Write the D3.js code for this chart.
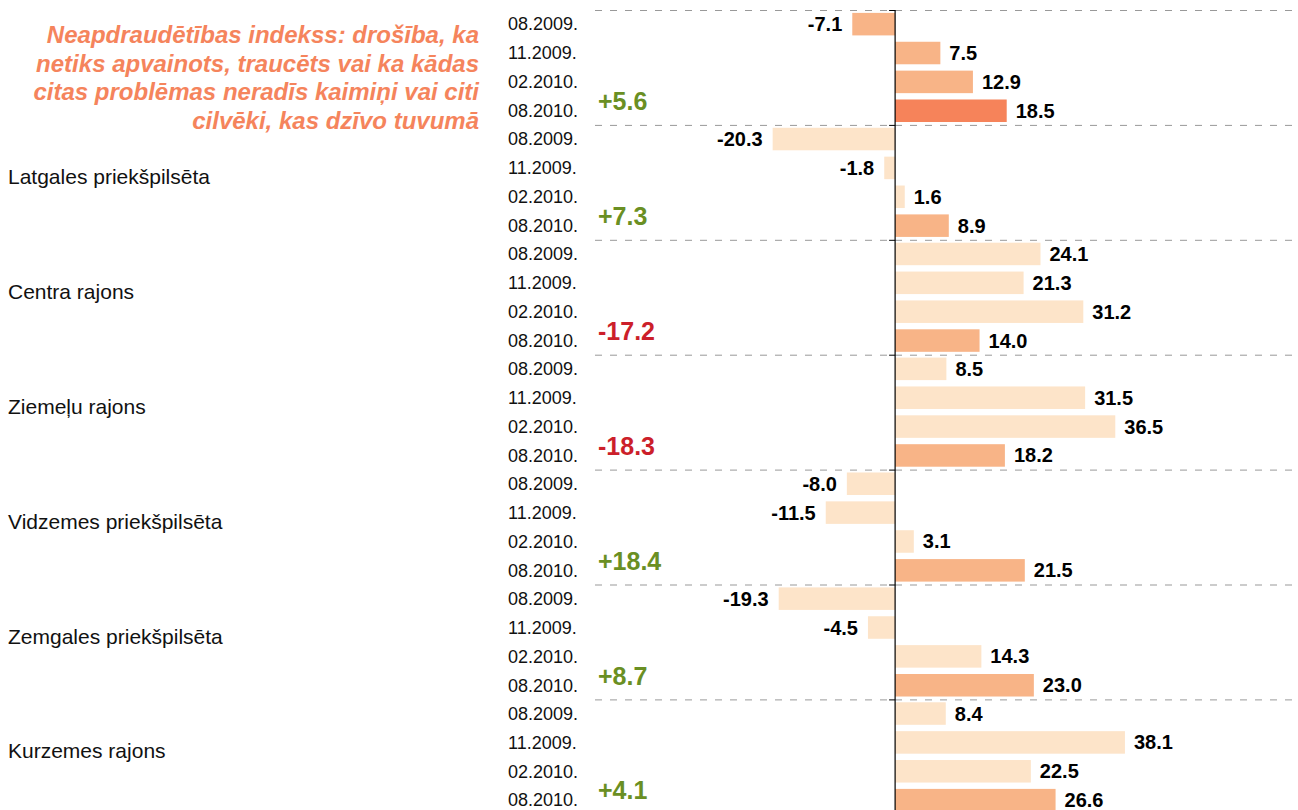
<!DOCTYPE html>
<html>
<head>
<meta charset="utf-8">
<script src="https://cdn.jsdelivr.net/npm/d3@7"></script>
<style>
  body { margin: 0; background: #fff; }
  svg { display: block; font-family: "Liberation Sans", Arial, sans-serif; }
</style>
</head>
<body>
<div id="chart"></div>
<script>
// data
const periods = ["08.2009.", "11.2009.", "02.2010.", "08.2010."]
const districts = ["", "Latgales priekšpilsēta", "Centra rajons", "Ziemeļu rajons",
  "Vidzemes priekšpilsēta", "Zemgales priekšpilsēta", "Kurzemes rajons"]
const values = [
  [-7.1, 7.5, 12.9, 18.5],
  [-20.3, -1.8, 1.6, 8.9],
  [24.1, 21.3, 31.2, 14.0],
  [8.5, 31.5, 36.5, 18.2],
  [-8.0, -11.5, 3.1, 21.5],
  [-19.3, -4.5, 14.3, 23.0],
  [8.4, 38.1, 22.5, 26.6]
]
const changes = [5.6, 7.3, -17.2, -18.3, 18.4, 8.7, 4.1]
const titleLines = [
  "Neapdraudētības indekss: drošība, ka",
  "netiks apvainots, traucēts vai ka kādas",
  "citas problēmas neradīs kaimiņi vai citi",
  "cilvēki, kas dzīvo tuvumā"
]

const width = 1298, height = 810

const svg = d3.select("#chart").append("svg")
  .attr("width", width)
  .attr("height", height)

// scales
const x = d3.scaleLinear().domain([-25, 40]).range([744.3, 1136.4])
const yGroup = d3.scaleBand().domain(d3.range(districts.length)).range([10, 10 + 114.9 * districts.length])
const yBar = d3.scaleBand().domain(periods).range([0, yGroup.bandwidth()])
  .paddingInner(0.22).paddingOuter(0.1)

const light = "#fde4c9", mid = "#f8b487", dark = "#f6835a"
function barColor(g, i) {
  if (g === 0) return i === 3 ? dark : mid
  return i === 3 ? mid : light
}

// title
svg.append("text")
  .attr("text-anchor", "end")
  .attr("fill", "#f5845c")
  .style("font-size", "24px")
  .style("font-weight", "bold")
  .style("font-style", "italic")
  .selectAll("tspan")
  .data(titleLines)
  .enter().append("tspan")
    .attr("x", 479)
    .attr("y", (d, i) => 43 + i * 28.5)
    .text(d => d)

// groups
const groups = svg.selectAll(".group")
  .data(values)
  .enter().append("g")
    .attr("class", "group")
    .attr("transform", (d, g) => "translate(0," + yGroup(g) + ")")

groups.append("line")
  .attr("x1", 595).attr("x2", width)
  .attr("y1", 0.5).attr("y2", 0.5)
  .attr("stroke", "#999")
  .attr("stroke-dasharray", "7,8")

groups.append("line")
  .attr("x1", x(0) - 6).attr("x2", x(0))
  .attr("y1", 0.5).attr("y2", 0.5)
  .attr("stroke", "#000")

groups.append("text")
  .attr("x", 8)
  .attr("y", 59)
  .style("font-size", "21px")
  .attr("fill", "#111")
  .text((d, g) => districts[g])

groups.selectAll(".period")
  .data(periods)
  .enter().append("text")
    .attr("class", "period")
    .attr("x", 508)
    .attr("y", p => yBar(p) + yBar.bandwidth() / 2)
    .attr("dy", "0.35em")
    .style("font-size", "18px")
    .attr("fill", "#111")
    .text(p => p)

groups.selectAll(".bar")
  .data((d, g) => d.map((v, i) => ({ v: v, i: i, g: g })))
  .enter().append("rect")
    .attr("class", "bar")
    .attr("x", d => x(Math.min(0, d.v)))
    .attr("width", d => Math.abs(x(d.v) - x(0)))
    .attr("y", d => yBar(periods[d.i]))
    .attr("height", yBar.bandwidth())
    .attr("fill", d => barColor(d.g, d.i))

groups.selectAll(".val")
  .data((d, g) => d.map((v, i) => ({ v: v, i: i, g: g })))
  .enter().append("text")
    .attr("class", "val")
    .attr("x", d => d.v < 0 ? x(d.v) - 10 : x(d.v) + 9)
    .attr("y", d => yBar(periods[d.i]) + yBar.bandwidth() / 2)
    .attr("dy", "0.35em")
    .attr("text-anchor", d => d.v < 0 ? "end" : "start")
    .style("font-size", "20px")
    .style("font-weight", "bold")
    .attr("fill", "#000")
    .text(d => d.v.toFixed(1))

groups.append("text")
  .attr("x", 598)
  .attr("y", 100)
  .style("font-size", "25px")
  .style("font-weight", "bold")
  .attr("fill", (d, g) => changes[g] < 0 ? "#cc1f2a" : "#6a8f23")
  .text((d, g) => (changes[g] > 0 ? "+" : "") + changes[g].toFixed(1))

// zero axis
svg.append("line")
  .attr("x1", x(0)).attr("x2", x(0))
  .attr("y1", 10).attr("y2", height)
  .attr("stroke", "#000")
  .attr("stroke-width", 1.2)
</script>
</body>
</html>
